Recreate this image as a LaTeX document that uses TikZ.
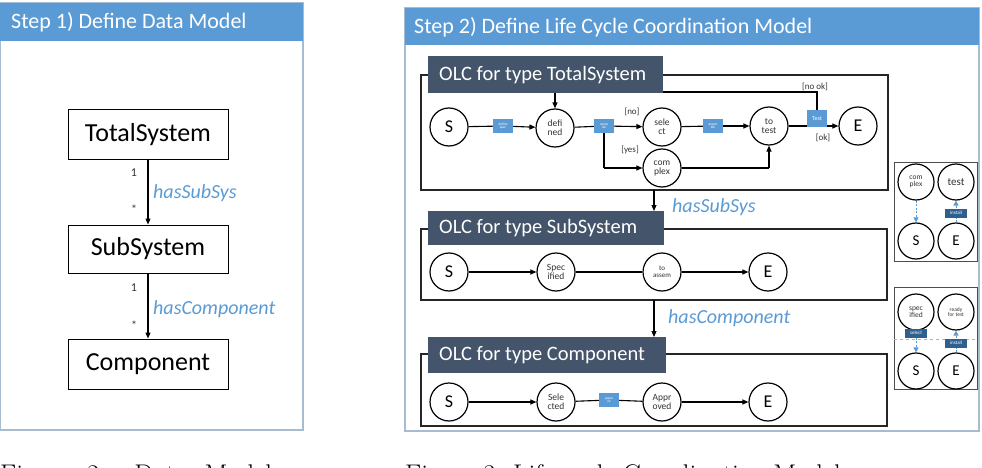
\documentclass[tikz,border=0pt]{standalone}
\usepackage{fontspec}
\newfontfamily\calfont{Carlito}
\usetikzlibrary{arrows.meta}
\definecolor{hdrblue}{HTML}{5B9BD5}
\definecolor{panelborder}{HTML}{A7BBD1}
\definecolor{olcdark}{HTML}{44546A}
\definecolor{darkbox}{HTML}{2F5F8F}
\definecolor{txtgray}{HTML}{333333}
\begin{document}
\begin{tikzpicture}[x=1pt,y=-1pt,
  state/.style={circle, draw=black, line width=1.2pt, minimum size=38pt, inner sep=0pt, fill=white,
    font=\calfont\fontsize{9.5}{9}\selectfont, text=txtgray, align=center},
  se/.style={state, font=\calfont\fontsize{18}{18}\selectfont, text=black},
  mini/.style={state, minimum size=36pt, font=\calfont\fontsize{7.5}{7}\selectfont},
  minise/.style={mini, font=\calfont\fontsize{15}{15}\selectfont, text=black},
  lbl/.style={rectangle, fill=hdrblue, minimum width=20pt, minimum height=14pt, inner sep=0pt,
    text=white, font=\calfont\fontsize{3.5}{3.5}\selectfont, align=center},
  dbox/.style={rectangle, fill=darkbox, minimum width=22pt, minimum height=9pt, inner sep=0pt,
    text=white, font=\calfont\fontsize{5}{5}\selectfont},
  arr/.style={-{Triangle[length=6pt,width=5pt]}, line width=1.1pt},
  ln/.style={line width=1.1pt},
  dasharr/.style={draw=hdrblue, dash pattern=on 2pt off 1.5pt, line width=1pt,
    -{Triangle[length=5pt,width=5pt,fill=hdrblue]}},
  classbox/.style={draw, line width=1pt, minimum width=160pt, inner sep=0pt,
    font=\calfont\fontsize{26}{26}\selectfont},
  hdr/.style={anchor=west, inner sep=0pt, text=white, font=\calfont\fontsize{22}{22}\selectfont},
  olctxt/.style={anchor=west, inner sep=0pt, text=white, font=\calfont\fontsize{20.5}{20.5}\selectfont},
  rel/.style={anchor=west, inner sep=0pt, text=hdrblue, font=\calfont\itshape\fontsize{20}{20}\selectfont},
  mult/.style={inner sep=0pt, text=txtgray, font=\calfont\fontsize{12}{12}\selectfont},
  guard/.style={inner sep=0pt, text=txtgray, font=\calfont\fontsize{9}{9}\selectfont},
  frame/.style={draw=black!85, line width=1.2pt},
  minibox/.style={draw=black!70, line width=1pt}
]
\useasboundingbox (0,0) rectangle (982,468);
\fill[white] (0,0) rectangle (982,468);

% ---------------- Step 1 panel
\draw[panelborder, line width=1.5pt] (0,3) rectangle (303,430);
\fill[hdrblue] (0,3) rectangle (303,41);
\node[hdr] (h1) at (11,22) {Step 1) Define Data Model};

\node[classbox, minimum height=49pt] (ts) at (148,134.5) {TotalSystem};
\node[classbox, minimum height=48pt] (ss) at (148,249) {SubSystem};
\node[classbox, minimum height=50pt] (cp) at (148,364) {Component};
\draw[arr, line width=1.3pt] (ts.south) -- (ss.north);
\draw[arr, line width=1.3pt] (ss.south) -- (cp.north);
\node[mult] (m1) at (134,173) {1};
\node[mult] (m2) at (134,209) {*};
\node[mult] (m3) at (134,288) {1};
\node[mult] (m4) at (134,325) {*};
\node[rel] (r1) at (153,193) {hasSubSys};
\node[rel] (r2) at (153,309) {hasComponent};

% ---------------- Step 2 panel
\draw[panelborder, line width=1.5pt] (405,8) rectangle (979,431);
\fill[hdrblue] (405,8) rectangle (979,45);
\node[hdr] (h2) at (414,27) {Step 2) Define Life Cycle Coordination Model};

% OLC TotalSystem
\draw[frame] (421,75) rectangle (888,190);
\node[se] (S1) at (449,127) {S};
\node[state] (D1) at (555,128) {defi\\ned};
\node[state] (Se1) at (662,127) {sele\\ct};
\node[state] (C1) at (662,168) {com\\plex};
\node[state] (T1) at (769,126) {to\\test};
\node[se] (E1) at (858,126) {E};
\node[lbl] (b1) at (503,126) {define\\spec};
\node[lbl] (b2) at (604,126) {comp\\lex};
\node[lbl] (b3) at (713,126) {assem\\ble};
\coordinate (yb) at (604,168);
\coordinate (ct) at (769,168);
\coordinate (lt) at (817,92);
\coordinate (ld) at (555,92);
\draw[ln] (S1) -- (b1);
\draw[arr] (b1) -- (D1);
\draw[ln] (D1) -- (b2);
\draw[arr] (b2) -- (Se1);
\draw[ln] (b2.south) -- (yb);
\draw[arr] (yb) -- (C1.west);
\draw[ln] (Se1) -- (b3);
\draw[arr] (b3) -- (T1);
\draw[ln] (C1.east) -- (ct);
\draw[arr] (ct) -- (T1.south);
\draw[arr] (T1) -- (E1);
\node[lbl, minimum height=17pt, font=\calfont\fontsize{6}{6}\selectfont] (tb) at (817,118.5) {Test};
\draw[ln] (tb.north) -- (lt) -- (ld);
\draw[arr] (ld) -- (D1.north);
\node[guard] (g1) at (632,112) {[no]};
\node[guard] (g2) at (630,150) {[yes]};
\node[guard] (g3) at (815,87) {[no ok]};
\node[guard] (g4) at (823,138) {[ok]};
\fill[olcdark] (428,56) rectangle (663,93);
\node[olctxt] (o1) at (439,75) {OLC for type TotalSystem};

% arrow hasSubSys
\coordinate (a1) at (654,190);
\coordinate (a2) at (654,211);
\draw[arr] (a1) -- (a2);
\node[rel] (r3) at (672,207) {hasSubSys};

% OLC SubSystem
\draw[frame] (421,229) rectangle (887,300);
\fill[olcdark] (428,211) rectangle (664,245);
\node[olctxt] (o2) at (439,228) {OLC for type SubSystem};
\node[se] (S2) at (449,272) {S};
\node[state] (Sp2) at (556,272) {Spec\\ified};
\node[state, font=\calfont\fontsize{7}{7}\selectfont] (As2) at (662,272) {to\\assem};
\node[se] (E2) at (768,272) {E};
\draw[arr] (S2) -- (Sp2);
\draw[ln] (Sp2) -- (As2);
\draw[arr] (As2) -- (E2);

% arrow hasComponent
\coordinate (a3) at (654,300);
\coordinate (a4) at (654,337);
\draw[arr] (a3) -- (a4);
\node[rel] (r4) at (668,318) {hasComponent};

% OLC Component
\draw[frame] (421,354) rectangle (887,426);
\fill[olcdark] (428,337) rectangle (666,373);
\node[olctxt] (o3) at (439,355) {OLC for type Component};
\node[se] (S3) at (449,402) {S};
\node[state] (Sl3) at (556,402) {Sele\\cted};
\node[state] (Ap3) at (662,402) {Appr\\oved};
\node[se] (E3) at (768,402) {E};
\node[lbl] (b4) at (609,400) {appro\\ve};
\draw[arr] (S3) -- (Sl3);
\draw[ln] (Sl3) -- (b4);
\draw[ln] (b4) -- (Ap3);
\draw[arr] (Ap3) -- (E3);

% mini box 1
\draw[minibox] (894,162) rectangle (977,261);
\node[mini] (mc) at (916,182) {com\\plex};
\node[mini, font=\calfont\fontsize{11}{11}\selectfont] (mt) at (956,182) {test};
\node[minise] (ms) at (916,241) {S};
\node[minise] (me) at (956,241) {E};
\draw[dasharr] (mc) -- (ms);
\draw[dasharr] (me) -- (mt);
\node[dbox] (mi) at (956,213) {install};

% mini box 2
\draw[minibox] (894,287) rectangle (977,389);
\draw[gray!60, dashed, line width=0.8pt] (894,339) -- (977,339);
\node[mini] (nsp) at (916,312) {spec\\ified};
\node[mini, font=\calfont\fontsize{5.5}{5.5}\selectfont] (nrd) at (956,312) {ready\\for test};
\node[minise] (ns) at (916,371) {S};
\node[minise] (ne) at (956,371) {E};
\draw[dasharr] (nsp) -- (ns);
\draw[dasharr] (ne) -- (nrd);
\node[dbox] (nse) at (916,333) {select};
\node[dbox] (nin) at (956,343) {install};

% captions (partly cut off, as in the reference)
\node[anchor=base west, inner sep=0pt, font=\fontsize{27}{27}\selectfont] (cap2) at (0,483)
  {\makebox[272pt][s]{Figure 2: Data Model}};
\node[anchor=base west, inner sep=0pt, font=\fontsize{27}{27}\selectfont] (cap3) at (405,483)
  {Figure 3: Life-cycle Coordination Model};
\end{tikzpicture}
\end{document}
